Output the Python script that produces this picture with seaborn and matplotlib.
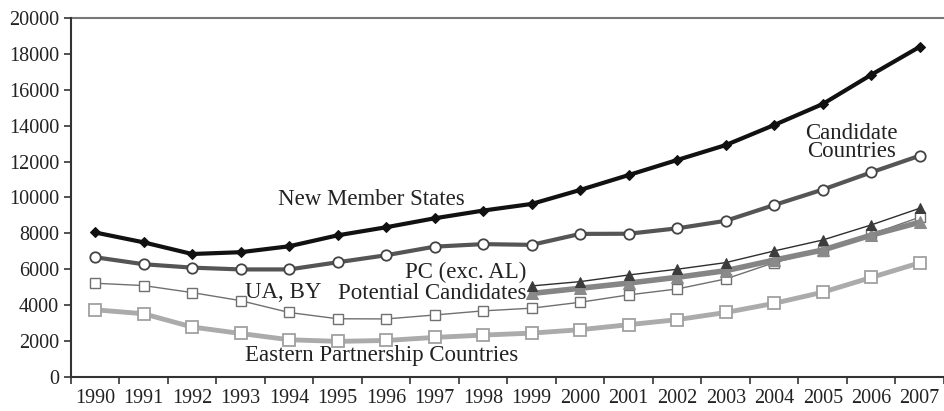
import numpy as np
import pandas as pd
import matplotlib
matplotlib.use("Agg")
import matplotlib.pyplot as plt
import seaborn as sns

# values
years = list(range(1990, 2008))
nms = [8050, 7500, 6850, 6950, 7280, 7890, 8340, 8840, 9270, 9640,
       10420, 11250, 12090, 12920, 14040, 15210, 16840, 18400]
cc = [6670, 6280, 6090, 5990, 5990, 6390, 6780, 7260, 7400, 7360,
      7970, 7980, 8280, 8700, 9580, 10440, 11400, 12330]
ua_by = [5220, 5090, 4700, 4250, 3590, 3240, 3230, 3450, 3680, 3830,
         4160, 4570, 4900, 5460, 6370, 7040, 7950, 8900]
eap = [3740, 3520, 2780, 2420, 2070, 1980, 2030, 2200, 2330, 2440,
       2630, 2910, 3190, 3590, 4100, 4720, 5540, 6360]
pc_years = list(range(1999, 2008))
pc_exc_al = [5070, 5310, 5680, 6000, 6370, 7020, 7630, 8470, 9400]
pot_cand = [4650, 4940, 5230, 5550, 5920, 6510, 7070, 7900, 8620]

df = pd.DataFrame({"year": years, "nms": nms, "cc": cc, "ua_by": ua_by, "eap": eap})
df_pc = pd.DataFrame({"year": pc_years, "pc": pc_exc_al, "pot": pot_cand})

sns.set_style("ticks")
plt.rcParams["font.family"] = ["Liberation Serif", "DejaVu Serif"]

fig = plt.figure(figsize=(9.44, 4.11), dpi=100)
ax = fig.add_axes([0.075, 0.083, 0.925, 0.873])

# series, drawn back to front
sns.lineplot(data=df, x="year", y="eap", ax=ax, color="#ababab", lw=3.5,
             marker="s", markersize=8, markerfacecolor="white",
             markeredgecolor="#a0a0a0", markeredgewidth=1.3)
sns.lineplot(data=df, x="year", y="ua_by", ax=ax, color="#707070", lw=1,
             marker="s", markersize=7, markerfacecolor="white",
             markeredgecolor="#707070", markeredgewidth=1)
sns.lineplot(data=df_pc, x="year", y="pot", ax=ax, color="#858585", lw=4,
             marker="^", markersize=8, markerfacecolor="#8a8a8a",
             markeredgecolor="#8a8a8a")
sns.lineplot(data=df_pc, x="year", y="pc", ax=ax, color="#2e2e2e", lw=1,
             marker="^", markersize=7, markerfacecolor="#3c3c3c",
             markeredgecolor="#3c3c3c")
sns.lineplot(data=df, x="year", y="cc", ax=ax, color="#555555", lw=3,
             marker="o", markersize=7.5, markerfacecolor="white",
             markeredgecolor="#444444", markeredgewidth=1.3)
sns.lineplot(data=df, x="year", y="nms", ax=ax, color="#111111", lw=3,
             marker="D", markersize=5.5, markerfacecolor="#111111",
             markeredgecolor="#111111")

# annotations
fs = 16.5
tc = "#222222"
ax.text(1995.7, 9860, "New Member States", ha="center", va="center", fontsize=fs, color=tc)
ax.text(2005.6, 13070, "Candidate\nCountries", ha="center", va="center", fontsize=fs,
        color=tc, linespacing=0.8)
ax.text(1998.9, 5820, "PC (exc. AL)", ha="right", va="center", fontsize=fs, color=tc)
ax.text(1998.9, 4660, "Potential Candidates", ha="right", va="center", fontsize=fs, color=tc)
ax.text(1993.1, 4730, "UA, BY", ha="left", va="center", fontsize=fs, color=tc)
ax.text(1993.1, 1170, "Eastern Partnership Countries", ha="left", va="center", fontsize=fs,
        color=tc)

# axes
ax.set_xlim(1989.5, 2007.5)
ax.set_ylim(0, 20000)
ax.set_yticks(np.arange(0, 20001, 2000))
ax.set_xticks(years)
ax.set_xticklabels([str(y) for y in years])
ax.set_xticks(np.arange(1989.5, 2007.6, 1), minor=True)
ax.tick_params(axis="x", which="major", length=0, labelsize=14.5, pad=9, colors=tc)
ax.tick_params(axis="x", which="minor", length=5, width=1.2, color="#333333")
ax.tick_params(axis="y", length=5, width=1.2, labelsize=14.5, colors=tc, color="#333333")
ax.set_xlabel("")
ax.set_ylabel("")
ax.axhline(20000, color="#777777", lw=1.5, clip_on=False)
for s in ["top", "right"]:
    ax.spines[s].set_visible(False)
for s in ["left", "bottom"]:
    ax.spines[s].set_color("#333333")
    ax.spines[s].set_linewidth(1.5)

fig.savefig("out.png", dpi=100)
